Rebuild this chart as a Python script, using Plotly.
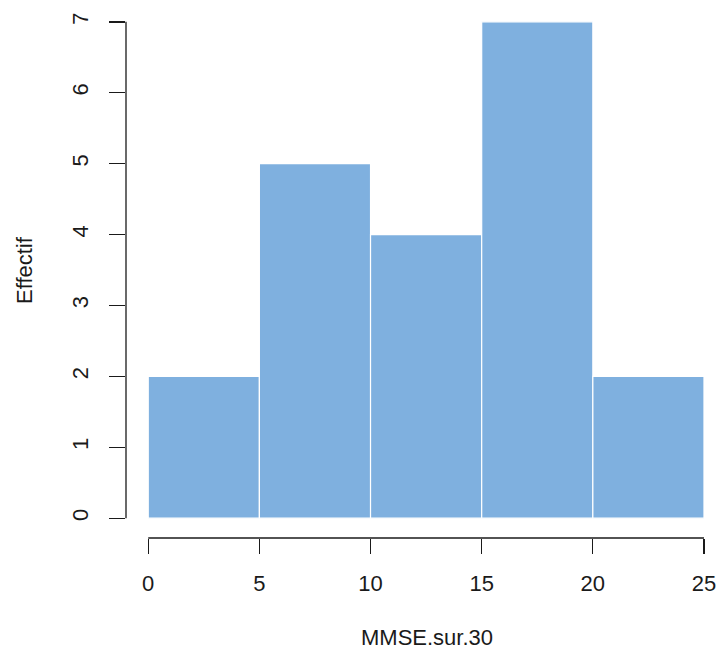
import plotly.graph_objects as go

bin_edges = [0, 5, 10, 15, 20, 25]
counts = [2, 5, 4, 7, 2]
x_ticks = [0, 5, 10, 15, 20, 25]
y_ticks = [0, 1, 2, 3, 4, 5, 6, 7]
x_title = "MMSE.sur.30"
y_title = "Effectif"

centers = [(a + b) / 2 for a, b in zip(bin_edges[:-1], bin_edges[1:])]
widths = [b - a for a, b in zip(bin_edges[:-1], bin_edges[1:])]

fig = go.Figure(go.Bar(
    x=centers, y=counts, width=widths,
    marker=dict(color="#7FB0DF", line=dict(color="white", width=1.2)),
    hoverinfo="skip",
))

font = dict(family="Liberation Sans, Arial", size=22, color="#1a1a1a")
ink = "#1a1a1a"

fig.update_layout(
    width=720, height=653,
    margin=dict(l=126, r=0, t=2, b=115, autoexpand=False),
    paper_bgcolor="white", plot_bgcolor="white",
    showlegend=False, bargap=0,
    font=font,
    xaxis=dict(
        range=[-1, 25.72], tickvals=x_ticks, ticktext=[str(v) for v in x_ticks],
        ticks="outside", ticklen=15, tickwidth=1.3, tickcolor=ink,
        showgrid=False, zeroline=False, showline=False, automargin=False,
        ticklabelstandoff=11,
    ),
    yaxis=dict(
        range=[-0.28, 7.28], tickvals=y_ticks, ticktext=[str(v) for v in y_ticks],
        ticks="outside", ticklen=16, tickwidth=1.3, tickcolor=ink,
        tickangle=-90,
        showgrid=False, zeroline=False, showline=False, automargin=False,
        ticklabelstandoff=12,
    ),
    shapes=[
        dict(type="line", xref="x", yref="paper", x0=x_ticks[0], x1=x_ticks[-1], y0=0, y1=0,
             line=dict(color=ink, width=1.3)),
        dict(type="line", xref="paper", yref="y", x0=0, x1=0, y0=y_ticks[0], y1=y_ticks[-1],
             line=dict(color=ink, width=1.3)),
    ],
    annotations=[
        dict(text=x_title, xref="x", yref="paper", x=(bin_edges[0] + bin_edges[-1]) / 2 + 0.05, y=0,
             xanchor="center", yanchor="middle", yshift=-99, showarrow=False, font=font),
        dict(text=y_title, xref="paper", yref="paper", x=0, y=0.5, textangle=-90,
             xanchor="center", yanchor="middle", xshift=-102, showarrow=False, font=font),
    ],
)

fig.write_html("out.html", config={"displayModeBar": False, "staticPlot": True},
               post_script="document.body.style.margin='0';document.body.style.overflow='hidden';")
